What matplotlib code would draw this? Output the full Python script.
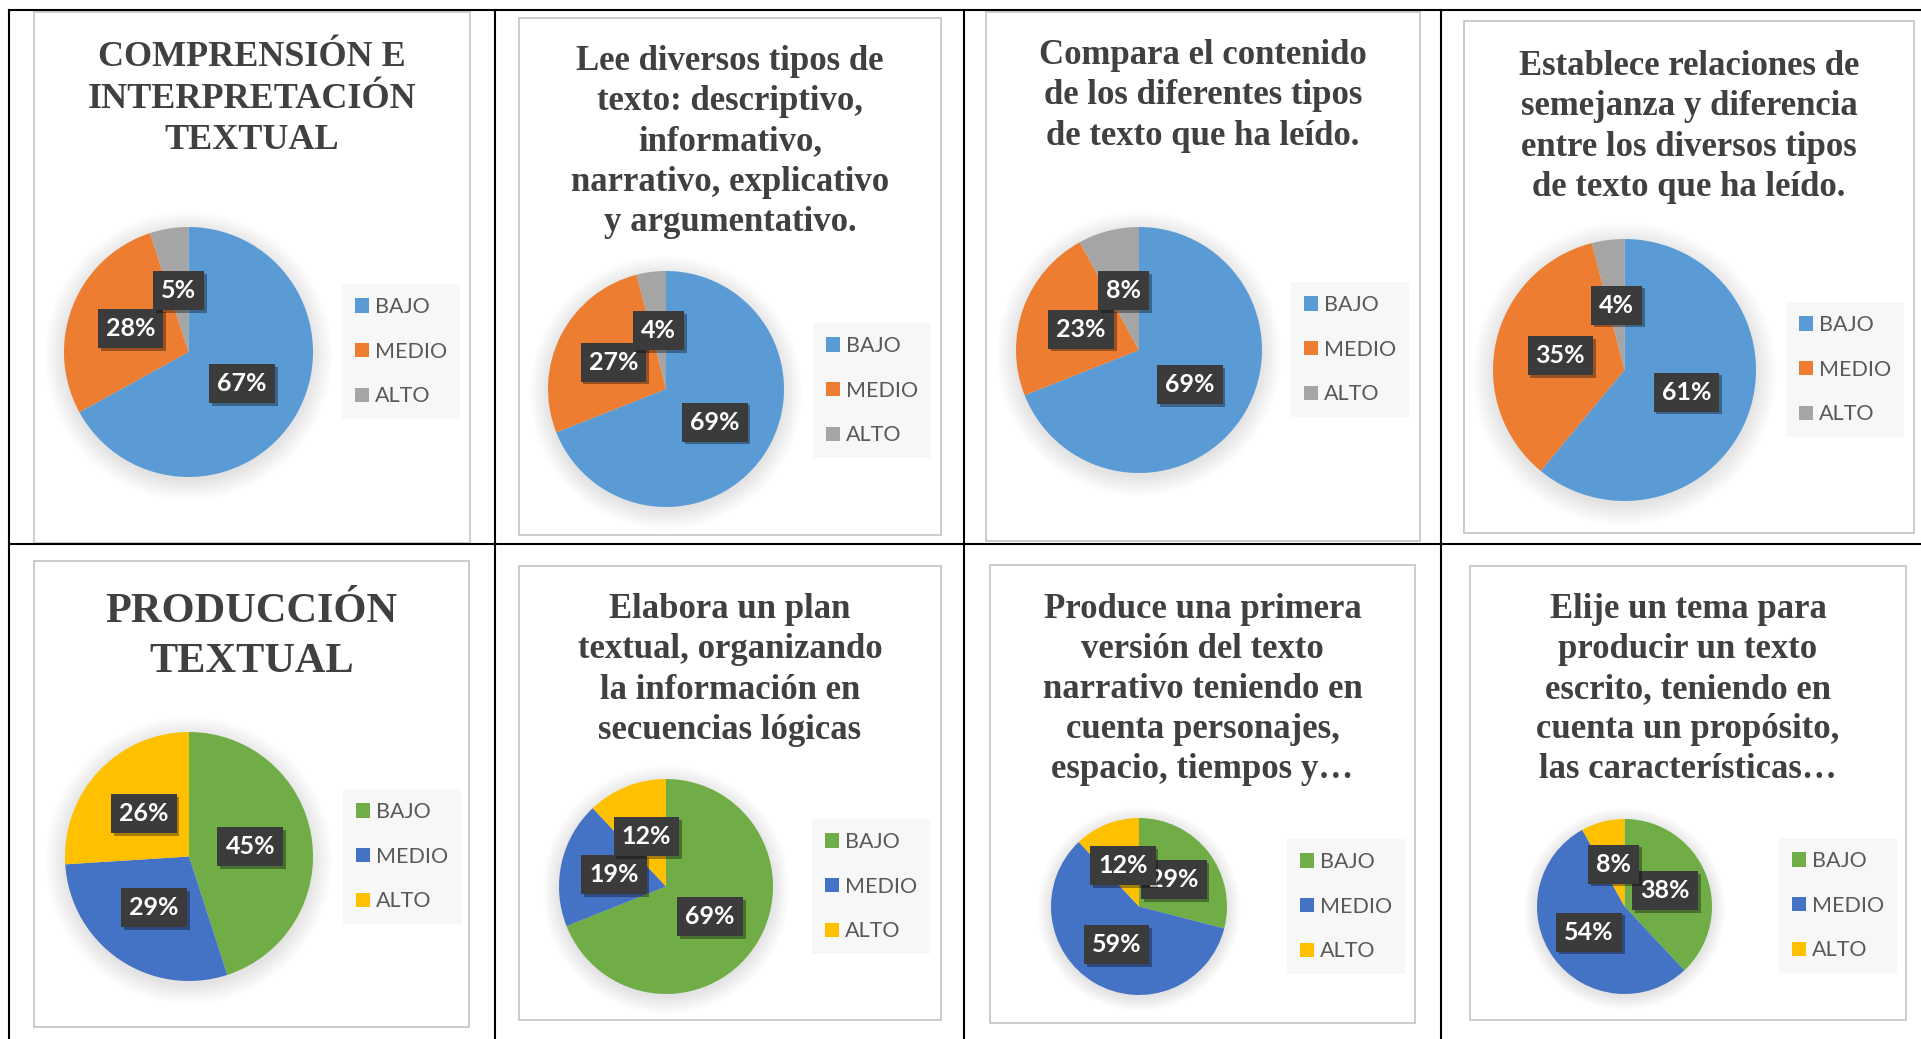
import matplotlib.pyplot as plt
from matplotlib.patches import Rectangle, Circle
from matplotlib.lines import Line2D
from matplotlib import patheffects

W, H = 1921, 1039

# datos
categorias = ['BAJO', 'MEDIO', 'ALTO']

titulos = [
    ['COMPRENSIÓN E', 'INTERPRETACIÓN', 'TEXTUAL'],
    ['Lee diversos tipos de', 'texto: descriptivo,', 'informativo,',
     'narrativo, explicativo', 'y argumentativo.'],
    ['Compara el contenido', 'de los diferentes tipos', 'de texto que ha leído.'],
    ['Establece relaciones de', 'semejanza y diferencia',
     'entre los diversos tipos', 'de texto que ha leído.'],
    ['PRODUCCIÓN', 'TEXTUAL'],
    ['Elabora un plan', 'textual, organizando', 'la información en',
     'secuencias lógicas'],
    ['Produce una primera', 'versión del texto', 'narrativo teniendo en',
     'cuenta personajes,', 'espacio, tiempos y…'],
    ['Elije un tema para', 'producir un texto', 'escrito, teniendo en',
     'cuenta un propósito,', 'las características…'],
]

valores = [
    [67, 28, 5],
    [69, 27, 4],
    [69, 23, 8],
    [61, 35, 4],
    [45, 29, 26],
    [69, 19, 12],
    [29, 59, 12],
    [38, 54, 8],
]

colores_comp = ['#5B9BD5', '#ED7D31', '#A5A5A5']
colores_prod = ['#70AD47', '#4472C4', '#FFC000']

# posiciones en pixeles (x0, y0, x1, y1), y medido desde arriba
marcos = [(34, 12, 470, 543), (519, 18, 941, 535), (986, 12, 1420, 541), (1464, 21, 1914, 533),
          (34, 561, 469, 1027), (519, 566, 941, 1020), (990, 565, 1415, 1023), (1470, 566, 1906, 1020)]
tortas = [(64, 227, 313, 477), (548, 271, 784, 507), (1016, 227, 1262, 473), (1493, 239, 1756, 501),
          (65, 732, 313, 981), (559, 779, 773, 994), (1051, 818, 1227, 995), (1537, 819, 1712, 994)]
leyendas = [(342, 284), (813, 323), (1291, 282), (1786, 302),
            (343, 789), (812, 819), (1287, 839), (1779, 838)]
titulo_y0 = [66, 70, 64, 75, 622, 618, 618, 618]
titulo_dy = [41.5, 40.2, 40.5, 40.3, 49.5, 40.3, 40, 40]
titulo_fs = [26, 25, 25, 25, 30.5, 25, 25, 25]


def caja(x0, y0, x1, y1):
    return [x0 / W, 1 - y1 / H, (x1 - x0) / W, (y1 - y0) / H]


fig = plt.figure(figsize=(W / 100, H / 100), dpi=100)

# lineas de la tabla
for y in [10, 544]:
    fig.add_artist(Line2D([9 / W, 1], [1 - y / H, 1 - y / H], transform=fig.transFigure,
                          color='black', lw=1.5, zorder=1))
for x in [9, 495, 964, 1441]:
    fig.add_artist(Line2D([x / W, x / W], [0, 1 - 10 / H], transform=fig.transFigure,
                          color='black', lw=1.5, zorder=1))

for i in range(8):
    colores = colores_comp if i < 4 else colores_prod
    x0, y0, x1, y1 = marcos[i]
    fig.add_artist(Rectangle((x0 / W, 1 - y1 / H), (x1 - x0) / W, (y1 - y0) / H,
                             transform=fig.transFigure, facecolor='white',
                             edgecolor='#c8c8c8', lw=1.3, zorder=-5))

    cx = (x0 + x1) / 2
    for k, linea in enumerate(titulos[i]):
        fig.text(cx / W, 1 - (titulo_y0[i] + k * titulo_dy[i]) / H, linea,
                 ha='center', va='baseline', fontsize=titulo_fs[i], fontweight='bold',
                 family='Liberation Serif', color='#404040')

    ax = fig.add_axes(caja(*tortas[i]))
    # sombra suave debajo de la torta
    for s in range(14):
        ax.add_patch(Circle((0.0, -0.03), 1.0 + 0.012 * s, facecolor='black',
                            edgecolor='none', alpha=0.009, clip_on=False, zorder=0))
    wedges, textos, autos = ax.pie(valores[i], colors=colores, startangle=90, counterclock=False,
                                   radius=1, autopct='%1.0f%%', pctdistance=0.5,
                                   wedgeprops=dict(linewidth=0),
                                   textprops=dict(color='white', fontsize=18,
                                                  fontweight='bold', family='Lato'))
    for t in autos:
        t.set_bbox(dict(boxstyle='square,pad=0.32', facecolor='#3b3b3b', edgecolor='none'))
        t.get_bbox_patch().set_path_effects([
            patheffects.SimplePatchShadow(offset=(2, -2), shadow_rgbFace='black', alpha=0.35),
            patheffects.Normal()])
    ax.set_xlim(-1, 1)
    ax.set_ylim(-1, 1)
    ax.set_aspect('auto')

    lx, ly = leyendas[i]
    ax.legend(wedges, categorias, loc='upper left', bbox_to_anchor=(lx / W, 1 - ly / H),
              bbox_transform=fig.transFigure, borderaxespad=0, frameon=True, fancybox=False,
              facecolor='#f7f7f7', edgecolor='none', framealpha=1,
              prop={'family': 'Lato', 'size': 15.5}, labelcolor='#595959',
              handlelength=0.65, handleheight=0.65, handletextpad=0.3,
              labelspacing=1.15, borderpad=0.6)

fig.savefig('out.png', dpi=100)
